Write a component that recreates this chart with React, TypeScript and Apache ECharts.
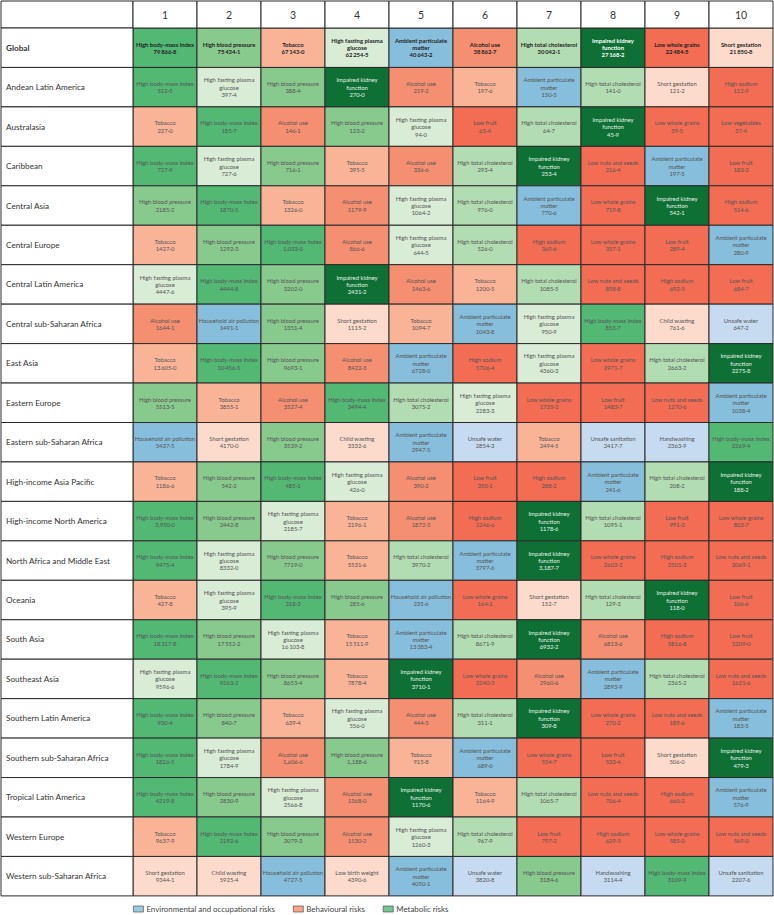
import React, { useEffect, useRef } from "react";
import * as echarts from "echarts";

const ranks = ["1", "2", "3", "4", "5", "6", "7", "8", "9", "10"];

const regions = [
  "Global",
  "Andean Latin America",
  "Australasia",
  "Caribbean",
  "Central Asia",
  "Central Europe",
  "Central Latin America",
  "Central sub-Saharan Africa",
  "East Asia",
  "Eastern Europe",
  "Eastern sub-Saharan Africa",
  "High-income Asia Pacific",
  "High-income North America",
  "North Africa and Middle East",
  "Oceania",
  "South Asia",
  "Southeast Asia",
  "Southern Latin America",
  "Southern sub-Saharan Africa",
  "Tropical Latin America",
  "Western Europe",
  "Western sub-Saharan Africa",
];

// risk codes per region, ranked 1..10
const riskCodes: string[][] = [
  ["BMI", "SBP", "TOB", "FPG", "PM", "ALC", "LDL", "KID", "WGR", "SG"],
  ["BMI", "FPG", "SBP", "KID", "ALC", "TOB", "PM", "LDL", "SG", "SOD"],
  ["TOB", "BMI", "ALC", "SBP", "FPG", "FRU", "LDL", "KID", "WGR", "VEG"],
  ["BMI", "FPG", "SBP", "TOB", "ALC", "LDL", "KID", "NUT", "PM", "FRU"],
  ["SBP", "BMI", "TOB", "ALC", "FPG", "LDL", "PM", "WGR", "KID", "SOD"],
  ["TOB", "SBP", "BMI", "ALC", "FPG", "LDL", "SOD", "WGR", "FRU", "PM"],
  ["FPG", "BMI", "SBP", "KID", "ALC", "TOB", "LDL", "NUT", "SOD", "FRU"],
  ["ALC", "HAP", "SBP", "SG", "TOB", "PM", "FPG", "BMI", "CW", "WAT"],
  ["TOB", "BMI", "SBP", "ALC", "PM", "SOD", "FPG", "WGR", "LDL", "KID"],
  ["SBP", "TOB", "ALC", "BMI", "LDL", "FPG", "WGR", "FRU", "NUT", "PM"],
  ["HAP", "SG", "SBP", "CW", "PM", "WAT", "TOB", "SAN", "HW", "BMI"],
  ["TOB", "SBP", "BMI", "FPG", "ALC", "FRU", "SOD", "PM", "LDL", "KID"],
  ["BMI", "SBP", "FPG", "TOB", "ALC", "SOD", "KID", "LDL", "FRU", "WGR"],
  ["BMI", "FPG", "SBP", "TOB", "LDL", "PM", "KID", "WGR", "SOD", "NUT"],
  ["TOB", "FPG", "BMI", "SBP", "HAP", "WGR", "SG", "LDL", "KID", "FRU"],
  ["BMI", "SBP", "FPG", "TOB", "PM", "LDL", "KID", "ALC", "SOD", "FRU"],
  ["FPG", "BMI", "SBP", "TOB", "KID", "WGR", "ALC", "PM", "LDL", "NUT"],
  ["BMI", "SBP", "TOB", "FPG", "ALC", "LDL", "KID", "WGR", "NUT", "PM"],
  ["BMI", "FPG", "ALC", "SBP", "TOB", "PM", "WGR", "FRU", "SG", "KID"],
  ["BMI", "SBP", "FPG", "ALC", "KID", "TOB", "LDL", "NUT", "SOD", "PM"],
  ["TOB", "BMI", "SBP", "ALC", "FPG", "LDL", "FRU", "SOD", "WGR", "NUT"],
  ["SG", "CW", "HAP", "LBW", "PM", "WAT", "SBP", "HW", "BMI", "SAN"],
];

// attributable DALYs (thousands)
const dalyValues: number[][] = [
  [79866.8, 75434.1, 67143.0, 62254.5, 40643.2, 38862.7, 30042.1, 27168.2, 22484.5, 21850.8],
  [512.5, 397.4, 388.4, 270.0, 219.2, 197.6, 150.5, 141.0, 121.2, 112.9],
  [227.0, 185.7, 146.1, 123.2, 94.0, 65.4, 64.7, 45.9, 39.5, 37.4],
  [727.9, 727.6, 716.1, 395.5, 336.6, 293.4, 253.4, 216.4, 197.5, 183.3],
  [2185.2, 1870.5, 1326.0, 1179.9, 1064.2, 976.0, 770.6, 719.8, 542.1, 514.6],
  [1427.0, 1292.3, 1033.0, 866.6, 644.5, 526.0, 369.6, 357.1, 289.4, 280.9],
  [4447.6, 4444.8, 3202.0, 2431.2, 1463.6, 1200.5, 1085.5, 898.8, 692.5, 684.7],
  [1644.1, 1491.1, 1351.4, 1115.2, 1094.7, 1043.8, 950.9, 853.7, 761.6, 647.2],
  [13605.0, 10456.5, 9693.1, 8422.3, 6728.0, 5706.4, 4360.3, 2971.7, 2663.2, 2275.8],
  [5513.5, 3855.1, 3527.4, 3494.4, 3075.2, 2283.3, 1735.2, 1483.7, 1270.6, 1038.4],
  [5437.5, 4170.0, 3539.2, 3332.6, 2947.5, 2854.3, 2494.5, 2417.7, 2363.9, 2269.4],
  [1186.6, 542.2, 485.1, 426.0, 390.2, 350.1, 288.2, 241.6, 208.2, 188.2],
  [3950.0, 2442.8, 2185.7, 2196.1, 1872.5, 1246.6, 1178.6, 1095.1, 991.3, 803.7],
  [9475.4, 8332.0, 7719.0, 5531.6, 3970.2, 3797.6, 3187.7, 2603.2, 2501.3, 2069.1],
  [427.8, 395.9, 318.3, 285.6, 235.6, 164.1, 152.7, 129.3, 118.0, 106.6],
  [18317.8, 17552.2, 16103.8, 15511.9, 13383.4, 8671.9, 6932.2, 6813.6, 5816.8, 5209.0],
  [9596.6, 9263.2, 8653.4, 7878.4, 3710.1, 3240.3, 2960.6, 2893.9, 2365.2, 1621.6],
  [930.4, 840.7, 639.4, 556.0, 444.5, 311.1, 309.8, 270.2, 189.6, 183.5],
  [1826.5, 1784.9, 1606.6, 1188.6, 915.8, 689.0, 554.7, 533.4, 506.0, 479.3],
  [4219.8, 2830.9, 2566.8, 1368.0, 1170.6, 1164.9, 1065.7, 706.4, 660.2, 576.9],
  [9637.9, 2192.6, 2079.3, 1530.2, 1260.3, 967.9, 797.2, 629.5, 585.0, 569.0],
  [9344.1, 5925.4, 4727.5, 4390.6, 4050.1, 3820.8, 3184.6, 3114.4, 3109.9, 2207.6],
];

// cells printed with a comma thousands separator in the source
const commaCells = ["5-2", "12-0", "13-6", "18-2", "18-3"];

const groupNames = [
  "Environmental and occupational risks",
  "Behavioural risks",
  "Metabolic risks",
];

const riskInfo: Record<string, { label: string; color: string }> = {
  BMI: { label: "High body-mass index", color: "#52b874" },
  SBP: { label: "High blood pressure", color: "#88c98e" },
  FPG: { label: "High fasting plasma\nglucose", color: "#d9ecd6" },
  LDL: { label: "High total cholesterol", color: "#b2dcb1" },
  KID: { label: "Impaired kidney\nfunction", color: "#0e7035" },
  TOB: { label: "Tobacco", color: "#f9b498" },
  ALC: { label: "Alcohol use", color: "#f58f71" },
  FRU: { label: "Low fruit", color: "#f26d53" },
  WGR: { label: "Low whole grains", color: "#f26d53" },
  SOD: { label: "High sodium", color: "#f26d53" },
  NUT: { label: "Low nuts and seeds", color: "#f26d53" },
  VEG: { label: "Low vegetables", color: "#f26d53" },
  SG: { label: "Short gestation", color: "#fddbcc" },
  CW: { label: "Child wasting", color: "#fddbcc" },
  LBW: { label: "Low birth weight", color: "#fddbcc" },
  PM: { label: "Ambient particulate\nmatter", color: "#86bedb" },
  HAP: { label: "Household air pollution", color: "#86bedb" },
  WAT: { label: "Unsafe water", color: "#c6dbef" },
  SAN: { label: "Unsafe sanitation", color: "#c6dbef" },
  HW: { label: "Handwashing", color: "#c6dbef" },
};
const groupColors = ["#86bedb", "#f58f71", "#52b874"];

const FONT = "Lato, sans-serif";
const BORDER = "#2a2a2a";

function fmt(r: number, c: number): string {
  const v = dalyValues[r][c];
  const [ip, dp] = v.toFixed(1).split(".");
  let intStr = ip;
  if (commaCells.includes(`${r}-${c}`)) {
    intStr = ip.slice(0, ip.length - 3) + "," + ip.slice(ip.length - 3);
  } else if (ip.length >= 5) {
    intStr = ip.slice(0, ip.length - 3) + "\u2009" + ip.slice(ip.length - 3);
  }
  return intStr + "\u00b7" + dp;
}

function cellRenderer(
  getText: (c: number, r: number) => string,
  getFill: (c: number, r: number) => string,
  getTextStyle: (c: number, r: number) => any,
  align: "center" | "left"
) {
  return (params: any, api: any) => {
    const c = api.value(0);
    const r = api.value(1);
    const center = api.coord([c, r]);
    const size = api.size([1, 1]);
    const x0 = center[0] - size[0] / 2;
    const y0 = center[1] - size[1] / 2;
    const ts = getTextStyle(c, r);
    return {
      type: "group",
      children: [
        {
          type: "rect",
          shape: { x: x0, y: y0, width: size[0], height: size[1] },
          style: { fill: getFill(c, r), stroke: BORDER, lineWidth: 1 },
        },
        {
          type: "text",
          style: {
            text: getText(c, r),
            x: align === "center" ? center[0] : x0 + 5,
            y: center[1],
            align,
            verticalAlign: "middle",
            fontFamily: FONT,
            ...ts,
          },
        },
      ],
    };
  };
}

export default function App() {
  const ref = useRef<HTMLDivElement>(null);
  useEffect(() => {
    document.body.style.margin = "0";
    if (!ref.current) return;
    const chart = echarts.init(ref.current, null, { renderer: "svg" });

    const top = 28;
    const rowH = 39.45;
    const gridH = rowH * regions.length;

    const cellData: number[][] = [];
    regions.forEach((_, r) => ranks.forEach((_, c) => cellData.push([c, r, dalyValues[r][c]])));

    const option: any = {
      animation: false,
      grid: [
        { left: 133, top, width: 640, height: gridH },
        { left: 133, top: 1, width: 640, height: top - 1 },
        { left: 1, top, width: 132, height: gridH },
      ],
      xAxis: [
        { type: "category", gridIndex: 0, data: ranks, show: false },
        { type: "category", gridIndex: 1, data: ranks, show: false },
        { type: "category", gridIndex: 2, data: ["region"], show: false },
      ],
      yAxis: [
        { type: "category", gridIndex: 0, data: regions, inverse: true, show: false },
        { type: "category", gridIndex: 1, data: ["rank"], show: false },
        { type: "category", gridIndex: 2, data: regions, inverse: true, show: false },
      ],
      legend: {
        left: 128,
        top: 900,
        itemWidth: 10,
        itemHeight: 6,
        itemGap: 18,
        selectedMode: false,
        textStyle: { fontFamily: FONT, fontSize: 7.9, color: "#444", padding: [0, 0, 0, -2] },
        data: groupNames.map((n, i) => ({
          name: n,
          icon: "rect",
          itemStyle: { color: groupColors[i], borderColor: "#444", borderWidth: 0.8 },
        })),
      },
      graphic: [
        {
          type: "rect",
          x: 1,
          y: 1,
          shape: { width: 132, height: top - 1 },
          style: { fill: "#fff", stroke: BORDER, lineWidth: 1 },
        },
      ],
      series: [
        {
          type: "custom",
          xAxisIndex: 0,
          yAxisIndex: 0,
          data: cellData,
          encode: { x: 0, y: 1 },
          silent: true,
          renderItem: cellRenderer(
            (c, r) => riskInfo[riskCodes[r][c]].label + "\n" + fmt(r, c),
            (c, r) => riskInfo[riskCodes[r][c]].color,
            (c, r) => {
              const dark = riskCodes[r][c] === "KID";
              return r === 0
                ? { fontSize: 5.9, lineHeight: 7.2, fontWeight: "bold", fill: dark ? "#ffffff" : "#1f1f1f" }
                : { fontSize: 5.9, lineHeight: 7.4, fill: dark ? "#e3f1e6" : "#555555" };
            },
            "center"
          ),
        },
        {
          type: "custom",
          xAxisIndex: 1,
          yAxisIndex: 1,
          data: ranks.map((_, i) => [i, 0]),
          encode: { x: 0, y: 1 },
          silent: true,
          renderItem: cellRenderer(
            (c) => ranks[c],
            () => "#ffffff",
            () => ({ fontSize: 10.5, fill: "#333" }),
            "center"
          ),
        },
        {
          type: "custom",
          xAxisIndex: 2,
          yAxisIndex: 2,
          data: regions.map((_, r) => [0, r]),
          encode: { x: 0, y: 1 },
          silent: true,
          renderItem: cellRenderer(
            (_c, r) => regions[r],
            () => "#ffffff",
            (_c, r) => ({ fontSize: 8.2, fill: "#333", fontWeight: r === 0 ? "bold" : "normal" }),
            "left"
          ),
        },
        ...groupNames.map((n, i) => ({
          type: "scatter",
          name: n,
          xAxisIndex: 0,
          yAxisIndex: 0,
          data: [],
          itemStyle: { color: groupColors[i] },
        })),
      ],
    };

    chart.setOption(option);
    return () => chart.dispose();
  }, []);
  return <div ref={ref} style={{ width: 774, height: 915 }} />;
}
